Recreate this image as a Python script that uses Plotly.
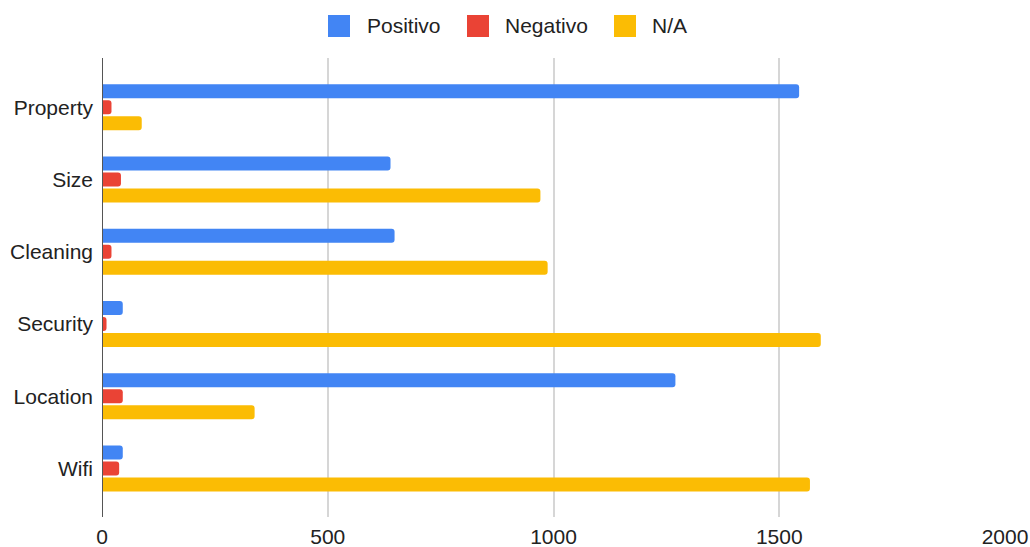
import plotly.graph_objects as go

# Review categories, top to bottom
categories = ["Property", "Size", "Cleaning", "Security", "Location", "Wifi"]

# Counts per sentiment
positivo = [1544, 639, 648, 46, 1270, 46]
negativo = [21, 42, 21, 10, 46, 38]
na_values = [88, 971, 987, 1592, 338, 1568]

series_names = ["Positivo", "Negativo", "N/A"]
series_colors = ["#4285F4", "#EA4335", "#FBBC04"]

x_ticks = [0, 500, 1000, 1500, 2000]

FONT = "Liberation Sans, Arial, sans-serif"
FSIZE = 21

fig = go.Figure()
for name, vals, color in zip(series_names, [positivo, negativo, na_values], series_colors):
    fig.add_trace(go.Bar(
        y=categories, x=vals, name=name, orientation="h",
        marker=dict(color=color, line=dict(width=0)),
        showlegend=False,
    ))

# Legend drawn as coloured squares with labels across the top
legend_items = [
    (328, 365, "Positivo"),
    (467, 503, "Negativo"),
    (614, 650, "N/A"),
]
W, H = 1030, 547
for (sx, tx, label), color in zip(legend_items, series_colors):
    fig.add_shape(
        type="rect", xref="paper", yref="paper",
        x0=(sx - 102) / 903, x1=(sx + 22 - 102) / 903,
        y0=(517 - 37) / 459, y1=(517 - 15) / 459,
        fillcolor=color, line=dict(width=0), layer="above",
    )
    fig.add_annotation(
        xref="paper", yref="paper",
        x=(tx - 102) / 903, y=(517 - 26) / 459,
        xanchor="left", yanchor="middle", showarrow=False,
        text=label, font=dict(family=FONT, size=FSIZE, color="#222222"),
    )

fig.update_layout(
    width=W, height=H,
    margin=dict(l=102, r=25, t=58, b=30),
    paper_bgcolor="white", plot_bgcolor="white",
    barmode="group", bargap=0.336, bargroupgap=0.125,
    barcornerradius=3,
    font=dict(family=FONT, size=FSIZE, color="#222222"),
    xaxis=dict(
        range=[0, 2000], tickvals=x_ticks, ticktext=[str(v) for v in x_ticks],
        showgrid=True, gridcolor="#d6d6d6", gridwidth=1.5,
        zeroline=False, showline=False, ticks="",
        automargin=False, ticklabelstandoff=5,
        tickfont=dict(family=FONT, size=FSIZE, color="#222222"),
    ),
    yaxis=dict(
        categoryorder="array", categoryarray=categories,
        range=[5.67, -0.68],
        showgrid=False, zeroline=False, showline=False, ticks="",
        automargin=False, ticklabelstandoff=8,
        tickfont=dict(family=FONT, size=FSIZE, color="#222222"),
    ),
)

# Dark baseline at x = 0
fig.add_shape(
    type="line", xref="x", yref="paper", x0=0, x1=0, y0=0, y1=1,
    line=dict(color="#555555", width=2), layer="above",
)

fig.write_html("out.html")
